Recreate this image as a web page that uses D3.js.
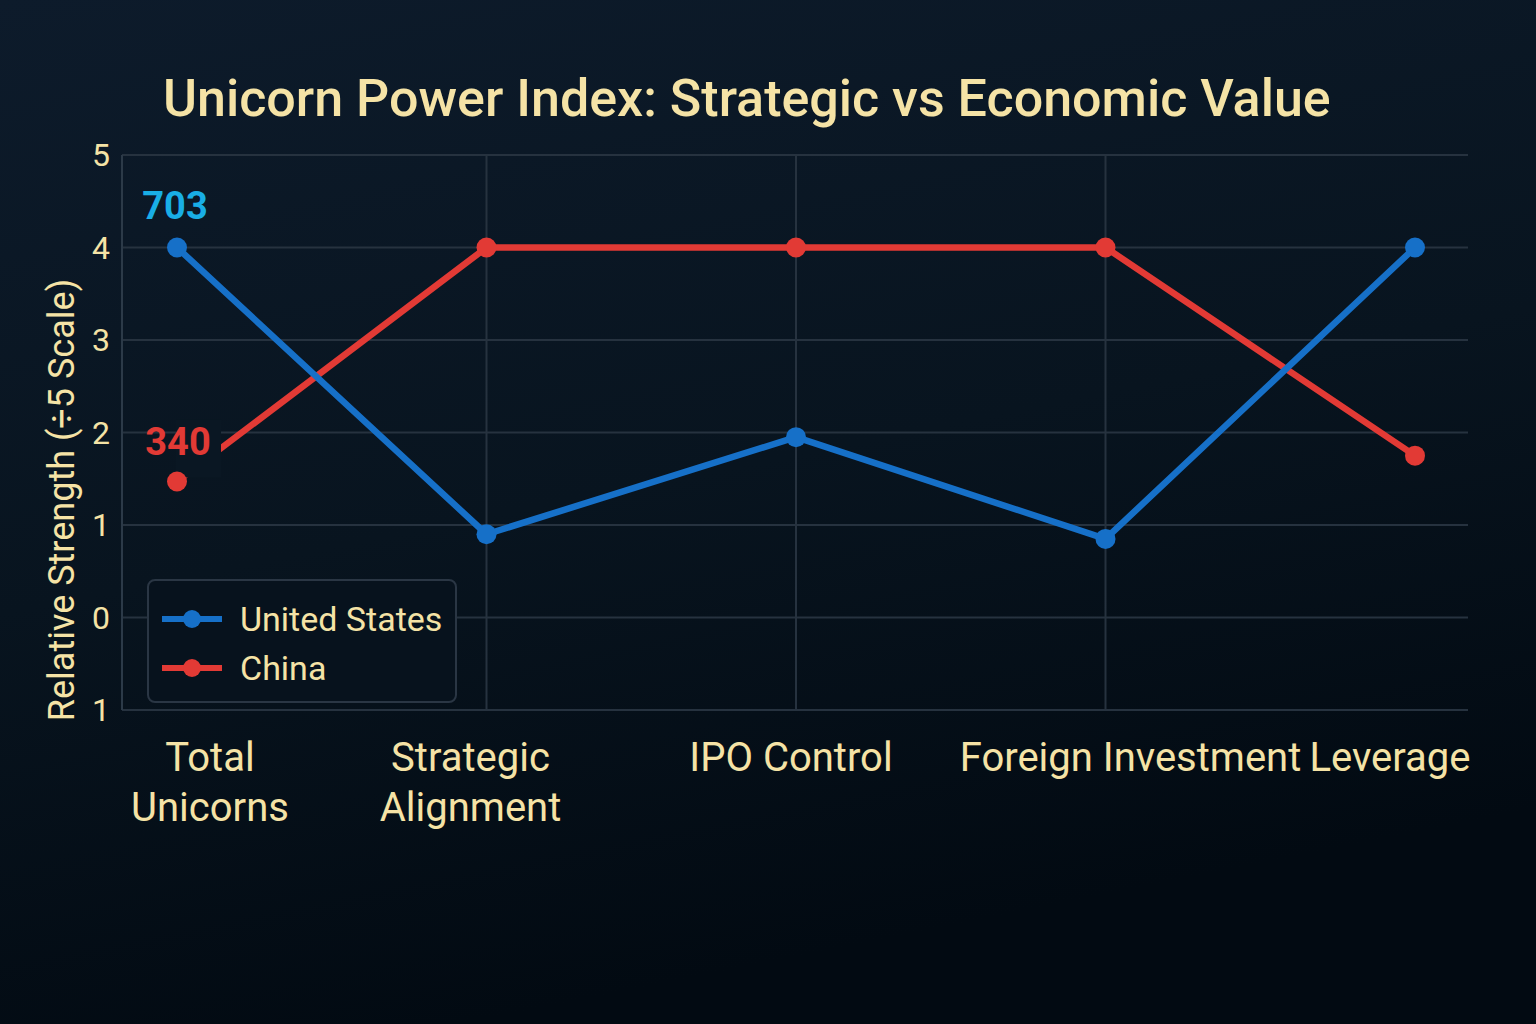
<!DOCTYPE html>
<html><head><meta charset="utf-8">
<script src="https://cdn.jsdelivr.net/npm/d3@7"></script>
<style>html,body{margin:0;padding:0;background:#06111e;overflow:hidden}</style>
</head><body>
<svg id="c" width="1536" height="1024"></svg>
<script>
const categories = ["Total Unicorns","Strategic Alignment","IPO Control","Foreign Investment","Leverage"];
const categoryLabels = [["Total","Unicorns"],["Strategic","Alignment"],["IPO Control"],["Foreign Investment"],["Leverage"]];
const usValues = [4, 0.9, 1.95, 0.85, 4];
const chinaValues = [1.47, 4, 4, 4, 1.75];
const yTicks = [5, 4, 3, 2, 1, 0, -1];
const yTickLabels = ["5","4","3","2","1","0","1"];
const seriesNames = ["United States","China"];
const annotations = ["703","340"];
const title = "Unicorn Power Index: Strategic vs Economic Value";
const yTitle = "Relative Strength (÷5 Scale)";

const svg = d3.select("#c");
const W = 1536, H = 1024;
const cream = "#f5e3a6";
const blue = "#1670c8", red = "#e23a35";
const grid = "#26323f";

const defs = svg.append("defs");
const g1 = defs.append("linearGradient").attr("id","bg").attr("x1","0").attr("y1","0").attr("x2","0.3").attr("y2","1");
g1.append("stop").attr("offset","0%").attr("stop-color","#0d1b2b");
g1.append("stop").attr("offset","55%").attr("stop-color","#08141f");
g1.append("stop").attr("offset","100%").attr("stop-color","#020a12");
svg.append("rect").attr("width",W).attr("height",H).attr("fill","url(#bg)");

const pLeft = 122, pRight = 1468, pTop = 155, pBottom = 710;
const x = d3.scalePoint().domain(categories).range([177, 1415]);
const y = d3.scaleLinear().domain([-1, 5]).range([pBottom, pTop]);

// title
svg.append("text").attr("x",163).attr("y",116).attr("fill",cream)
  .attr("font-family","Roboto, 'Noto Sans', sans-serif").attr("font-size",52).attr("font-weight",500)
  .text(title);

// horizontal grid
svg.append("g").selectAll("line").data(yTicks).join("line")
  .attr("x1",pLeft).attr("x2",pRight).attr("y1",d=>y(d)).attr("y2",d=>y(d))
  .attr("stroke",grid).attr("stroke-width",2);
// vertical grid (interior categories)
svg.append("g").selectAll("line").data(categories.slice(1,4)).join("line")
  .attr("x1",d=>x(d)).attr("x2",d=>x(d)).attr("y1",pTop).attr("y2",pBottom)
  .attr("stroke",grid).attr("stroke-width",2);
// left axis line
svg.append("line").attr("x1",pLeft).attr("x2",pLeft).attr("y1",pTop).attr("y2",pBottom)
  .attr("stroke","#2c3a48").attr("stroke-width",2);

// y tick labels
svg.append("g").selectAll("text").data(yTicks).join("text")
  .attr("x",101).attr("y",d=>y(d)+11).attr("text-anchor","middle")
  .attr("fill",cream).attr("font-family","Roboto, sans-serif").attr("font-size",32)
  .text((d,i)=>yTickLabels[i]);

// y title
svg.append("text").attr("transform","translate(74,500) rotate(-90)")
  .attr("text-anchor","middle").attr("fill",cream)
  .attr("font-family","Roboto, sans-serif").attr("font-size",36)
  .text(yTitle);

// x labels
const labelDx = [33, -16, -5, 25, -25];
const xl = svg.append("g");
categories.forEach((c,i)=>{
  const t = xl.append("text").attr("text-anchor","middle")
    .attr("x", x(c)+labelDx[i]).attr("y",771).attr("fill",cream)
    .attr("font-family","Roboto, sans-serif").attr("font-size",40);
  categoryLabels[i].forEach((ln,j)=>{
    t.append("tspan").attr("x",x(c)+labelDx[i]).attr("dy",j===0?0:50).text(ln);
  });
});

const line = d3.line().x((d,i)=>x(categories[i])).y(d=>y(d));
// China line
svg.append("path").datum(chinaValues).attr("d",line).attr("fill","none")
  .attr("stroke",red).attr("stroke-width",6.5).attr("stroke-linejoin","round");
// mask behind label 340 hides start of China line
svg.append("rect").attr("x",x(categories[0])-1).attr("y",y(chinaValues[0])-62).attr("width",45).attr("height",58)
  .attr("fill","#0a1723");
// US line
svg.append("path").datum(usValues).attr("d",line).attr("fill","none")
  .attr("stroke",blue).attr("stroke-width",6.5).attr("stroke-linejoin","round");

svg.append("g").selectAll("circle").data(chinaValues).join("circle")
  .attr("cx",(d,i)=>x(categories[i])).attr("cy",d=>y(d)).attr("r",10).attr("fill",red);
svg.append("g").selectAll("circle").data(usValues).join("circle")
  .attr("cx",(d,i)=>x(categories[i])).attr("cy",d=>y(d)).attr("r",10).attr("fill",blue);

// annotations
svg.append("text").attr("x",x(categories[0])-2).attr("y",y(usValues[0])-29).attr("text-anchor","middle")
  .attr("fill","#19aee6").attr("font-family","Roboto, sans-serif").attr("font-weight",700).attr("font-size",38)
  .text(annotations[0]);
svg.append("text").attr("x",x(categories[0])+1).attr("y",y(chinaValues[0])-27).attr("text-anchor","middle")
  .attr("fill",red).attr("font-family","Roboto, sans-serif").attr("font-weight",700).attr("font-size",38)
  .text(annotations[1]);

// legend
const lg = svg.append("g");
lg.append("rect").attr("x",148).attr("y",580).attr("width",308).attr("height",122).attr("rx",7)
  .attr("fill","#07121d").attr("stroke","#2a3644").attr("stroke-width",2);
const colors = [blue, red];
seriesNames.forEach((s,i)=>{
  const yy = 619 + i*49;
  lg.append("line").attr("x1",162).attr("x2",222).attr("y1",yy).attr("y2",yy).attr("stroke",colors[i]).attr("stroke-width",6);
  lg.append("circle").attr("cx",192).attr("cy",yy).attr("r",9).attr("fill",colors[i]);
  lg.append("text").attr("x",240).attr("y",yy+12).attr("fill",cream)
    .attr("font-family","Roboto, sans-serif").attr("font-size",34).text(s);
});
</script>
</body></html>
